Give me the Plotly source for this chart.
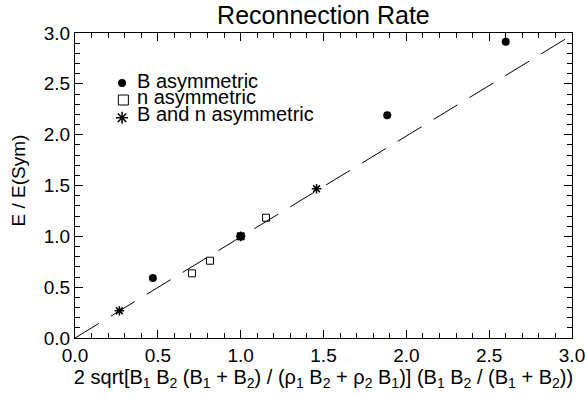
import plotly.graph_objects as go

# Data
b_asym_x = [0.47, 1.0, 1.885, 2.60]
b_asym_y = [0.59, 1.0, 2.19, 2.915]
n_asym_x = [0.706, 0.815, 1.0, 1.153]
n_asym_y = [0.636, 0.76, 1.0, 1.183]
bn_asym_x = [0.268, 1.0, 1.458]
bn_asym_y = [0.268, 1.0, 1.468]
fit_x = [0.0, 2.97]
fit_y = [0.0, 2.95]

legend_labels = ["B asymmetric", "n asymmetric", "B and n asymmetric"]
legend_marker_x = [0.284, 0.292, 0.284]
legend_marker_y = [2.508, 2.341, 2.167]
legend_text_x = 0.362
legend_text_y = [2.53, 2.372, 2.205]

x_title = ("2 sqrt[B<sub>1</sub> B<sub>2</sub> (B<sub>1</sub> + B<sub>2</sub>) / "
           "(ρ<sub>1</sub> B<sub>2</sub> + ρ<sub>2</sub> B<sub>1</sub>)] "
           "(B<sub>1</sub> B<sub>2</sub> / (B<sub>1</sub> + B<sub>2</sub>))")
y_title = "E / E(Sym)"

FONT = "Liberation Sans, Arial, Helvetica, sans-serif"

fig = go.Figure()
fig.add_trace(go.Scatter(x=fit_x, y=fit_y, mode="lines",
                         line=dict(color="black", width=1, dash="28px,14px"),
                         showlegend=False, hoverinfo="skip"))
fig.add_trace(go.Scatter(x=n_asym_x, y=n_asym_y, mode="markers",
                         marker=dict(symbol="square-open", size=7, color="black",
                                     line=dict(width=1, color="black")),
                         showlegend=False))
fig.add_trace(go.Scatter(x=bn_asym_x, y=bn_asym_y, mode="markers",
                         marker=dict(symbol="asterisk-open", size=8, color="black",
                                     line=dict(width=1.5, color="black")),
                         showlegend=False))
fig.add_trace(go.Scatter(x=b_asym_x, y=b_asym_y, mode="markers",
                         marker=dict(symbol="circle", size=8, color="black"),
                         showlegend=False))

# legend markers
fig.add_trace(go.Scatter(x=[legend_marker_x[0]], y=[legend_marker_y[0]], mode="markers",
                         marker=dict(symbol="circle", size=8, color="black"),
                         showlegend=False, hoverinfo="skip"))
fig.add_trace(go.Scatter(x=[legend_marker_x[1]], y=[legend_marker_y[1]], mode="markers",
                         marker=dict(symbol="square-open", size=10, color="black",
                                     line=dict(width=1, color="black")),
                         showlegend=False, hoverinfo="skip"))
fig.add_trace(go.Scatter(x=[legend_marker_x[2]], y=[legend_marker_y[2]], mode="markers",
                         marker=dict(symbol="asterisk-open", size=10, color="black",
                                     line=dict(width=1.5, color="black")),
                         showlegend=False, hoverinfo="skip"))

for lab, ly in zip(legend_labels, legend_text_y):
    fig.add_annotation(x=legend_text_x, y=ly, xref="x", yref="y", text=lab,
                       showarrow=False, xanchor="left", yanchor="middle",
                       font=dict(family=FONT, size=20, color="black"))

fig.add_annotation(x=0, y=0.5, xref="paper", yref="paper", text=y_title,
                   showarrow=False, xanchor="center", yanchor="middle", textangle=-90,
                   xshift=-57, yshift=5,
                   font=dict(family=FONT, size=19, color="black"))

axis_common = dict(
    showgrid=False, zeroline=False, showline=True, linecolor="black", linewidth=1,
    mirror="ticks", ticks="inside", ticklen=8, tickwidth=1, tickcolor="black",
    tickformat=".1f", dtick=0.5, tick0=0, automargin=False,
    minor=dict(ticks="inside", ticklen=5, dtick=0.1, tickcolor="black", tickwidth=1),
    tickfont=dict(family=FONT, size=19, color="black"),
    range=[0, 3],
)

fig.update_layout(
    width=587, height=398,
    margin=dict(l=75, r=15, t=33, b=60),
    paper_bgcolor="white", plot_bgcolor="white",
    font=dict(family=FONT, color="black"),
    title=dict(text="Reconnection Rate", x=0.551, xref="container", xanchor="center",
               y=0.962, yref="container", yanchor="middle",
               font=dict(family=FONT, size=25, color="black")),
    xaxis=dict(**axis_common,
               title=dict(text=x_title, standoff=0,
                          font=dict(family=FONT, size=20, color="black"))),
    yaxis=dict(**axis_common),
    showlegend=False,
)

fig.write_html("out.html")
